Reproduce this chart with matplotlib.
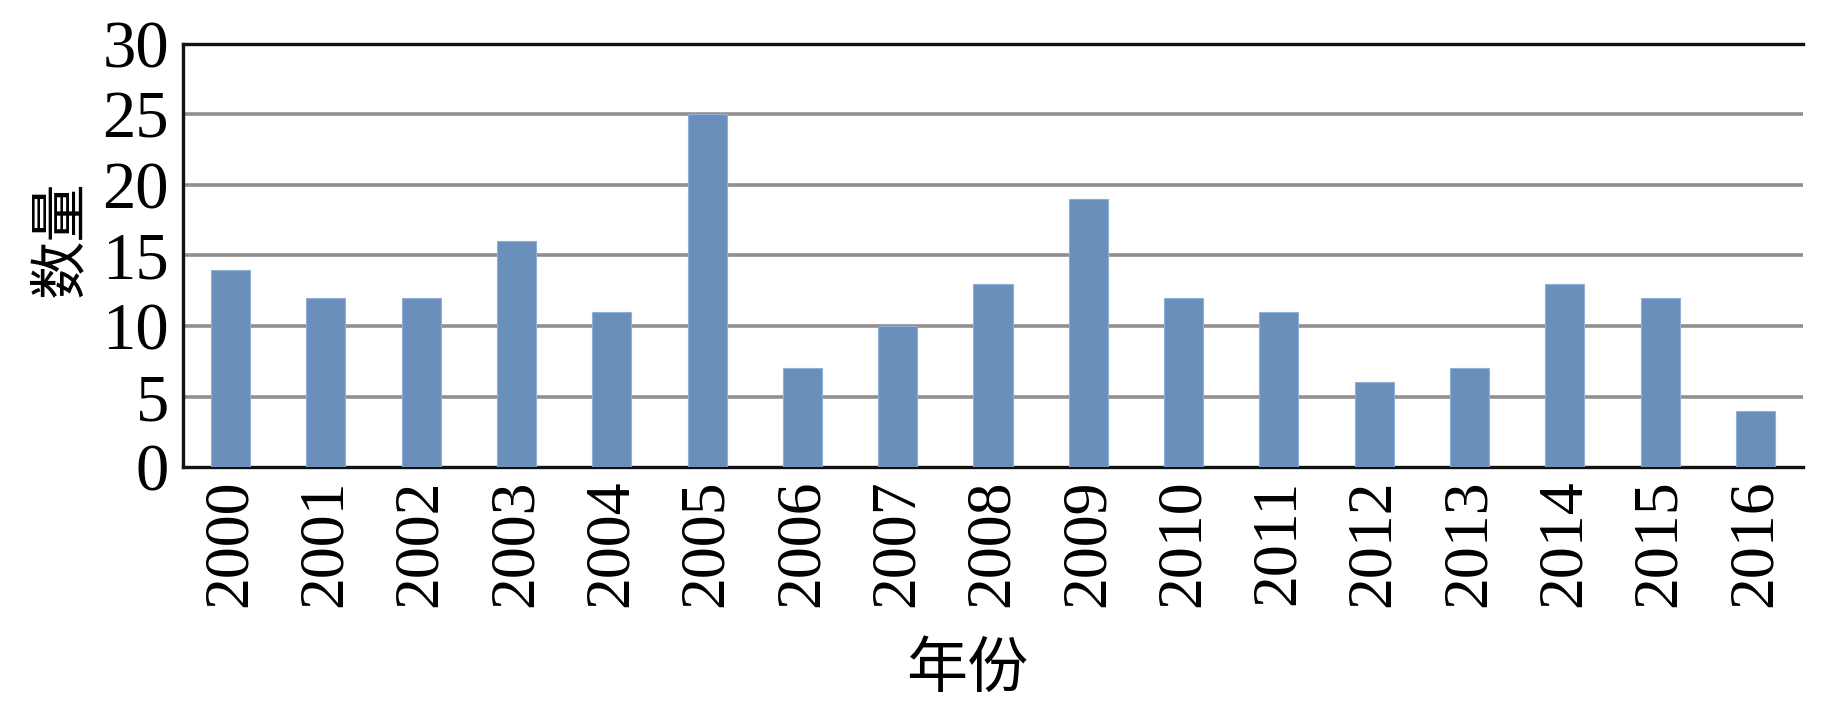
# -*- coding: utf-8 -*-
"""Number per year, 2000-2016, as a bar chart."""

import matplotlib
matplotlib.use('Agg')
import matplotlib.pyplot as plt
import numpy as np

# Data
YEARS = ['2000', '2001', '2002', '2003', '2004', '2005', '2006', '2007', '2008',
         '2009', '2010', '2011', '2012', '2013', '2014', '2015', '2016']
COUNTS = [14, 12, 12, 16, 11, 25, 7, 10, 13, 19, 12, 11, 6, 7, 13, 12, 4]
Y_TICKS = [0, 5, 10, 15, 20, 25, 30]

SERIF = ['Liberation Serif', 'DejaVu Serif']
CJK = ['Noto Sans CJK SC', 'DejaVu Sans']


def main():
    fig = plt.figure(figsize=(18.43, 7.09), dpi=100)
    ax = fig.add_axes([0.0993, 0.3413, 0.879, 0.5967])

    x = np.arange(len(YEARS))
    ax.bar(x, COUNTS, width=0.41, color='#6b8fbb', edgecolor='#8fb0d6',
           linewidth=0.8, zorder=3)

    ax.set_xlim(-0.5, len(YEARS) - 0.5)
    ax.set_ylim(0, 30)
    ax.set_yticks(Y_TICKS)
    ax.set_yticklabels([str(v) for v in Y_TICKS], family=SERIF, fontsize=48)
    ax.set_xticks(x)
    ax.set_xticklabels(YEARS, family=SERIF, fontsize=46, rotation=90)
    ax.tick_params(axis='both', length=0)
    ax.tick_params(axis='y', pad=10)
    ax.tick_params(axis='x', pad=9)

    # horizontal grid lines (the 30 line is the top frame)
    for v in Y_TICKS[1:-1]:
        ax.axhline(v, color='#938e8e', linewidth=2.6, zorder=1)

    for side in ['left', 'bottom', 'top']:
        ax.spines[side].set_linewidth(2.4)
        ax.spines[side].set_color('#111111')
    ax.spines['right'].set_visible(False)

    ax.set_ylabel('数量', family=CJK, fontsize=42)
    ax.yaxis.set_label_coords(-0.057, 0.54)
    ax.set_xlabel('年份', family=CJK, fontsize=44)
    ax.xaxis.set_label_coords(0.484, -0.405)

    fig.savefig('out.png', dpi=100)


if __name__ == "__main__":
    main()
